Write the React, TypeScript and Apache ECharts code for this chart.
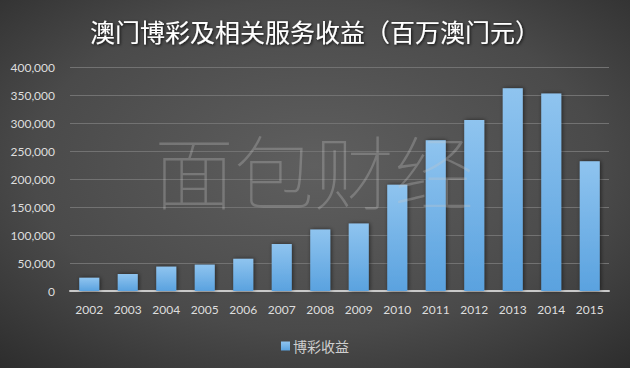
import React, { useEffect, useRef } from "react";
import * as echarts from "echarts";

// Macau gaming revenue, MOP million
const years = ["2002", "2003", "2004", "2005", "2006", "2007", "2008", "2009", "2010", "2011", "2012", "2013", "2014", "2015"];
const gamingRevenue = [23500, 30300, 43500, 47100, 57500, 83800, 109800, 120400, 189600, 269100, 305200, 361900, 352700, 231800];
const seriesName = "博彩收益";
const titleText = "澳门博彩及相关服务收益（百万澳门元）";
const watermarkText = "面包财经";

export default function App() {
  const ref = useRef<HTMLDivElement>(null);

  useEffect(() => {
    if (!ref.current) return;
    const chart = echarts.init(ref.current, undefined, { renderer: "svg" });
    chart.setOption({
      animation: false,
      backgroundColor: {
        type: "radial",
        x: 0.5,
        y: 0.45,
        r: 0.75,
        colorStops: [
          { offset: 0, color: "#5f5f5f" },
          { offset: 0.6, color: "#4a4a4a" },
          { offset: 1, color: "#2c2c2c" },
        ],
      },
      title: {
        text: titleText,
        left: "center",
        top: 13,
        textStyle: {
          color: "#ffffff",
          fontSize: 25,
          fontWeight: "normal",
          fontFamily: "Noto Sans CJK SC",
          textShadowColor: "rgba(0,0,0,0.85)",
          textShadowBlur: 3,
          textShadowOffsetX: 1,
          textShadowOffsetY: 1,
        },
      },
      legend: {
        data: [seriesName],
        left: "center",
        top: 334,
        icon: "rect",
        itemWidth: 9,
        itemHeight: 9,
        itemGap: 4,
        textStyle: { color: "#cfcfcf", fontSize: 14, fontFamily: "Noto Sans CJK SC", padding: [0, 0, 0, -2] },
      },
      grid: { left: 70, right: 21, top: 67, bottom: 77, containLabel: false },
      xAxis: {
        type: "category",
        data: years,
        axisTick: { show: false },
        axisLine: { lineStyle: { color: "#c9c9c9", width: 2 } },
        axisLabel: { color: "#dedede", fontSize: 12, fontFamily: "Lato", margin: 12 },
      },
      yAxis: {
        type: "value",
        min: 0,
        max: 400000,
        interval: 50000,
        axisLine: { show: false },
        axisTick: { show: false },
        splitLine: { lineStyle: { color: "#727272", width: 1 } },
        axisLabel: {
          color: "#dedede",
          fontSize: 12,
          fontFamily: "Lato",
          margin: 15,
          formatter: (v: number) => v.toLocaleString("en-US"),
        },
      },
      series: [
        {
          name: seriesName,
          type: "bar",
          data: gamingRevenue,
          barWidth: "52%",
          itemStyle: {
            color: new echarts.graphic.LinearGradient(0, 0, 0, 1, [
              { offset: 0, color: "#8fc4ef" },
              { offset: 1, color: "#5aa2df" },
            ]),
            shadowColor: "rgba(0,0,0,0.55)",
            shadowBlur: 4,
            shadowOffsetX: 1,
            shadowOffsetY: 0,
          },
        },
      ],
      graphic: [
        {
          type: "text",
          left: 154,
          top: 128,
          z: 100,
          style: {
            text: watermarkText,
            fill: "rgba(200,200,200,0.3)",
            fontSize: 80,
            fontWeight: "lighter",
            fontFamily: "Noto Sans CJK SC",
          },
        },
      ],
    });
    return () => chart.dispose();
  }, []);

  return <div ref={ref} style={{ width: 630, height: 368, position: "absolute", left: 0, top: 0 }} />;
}
